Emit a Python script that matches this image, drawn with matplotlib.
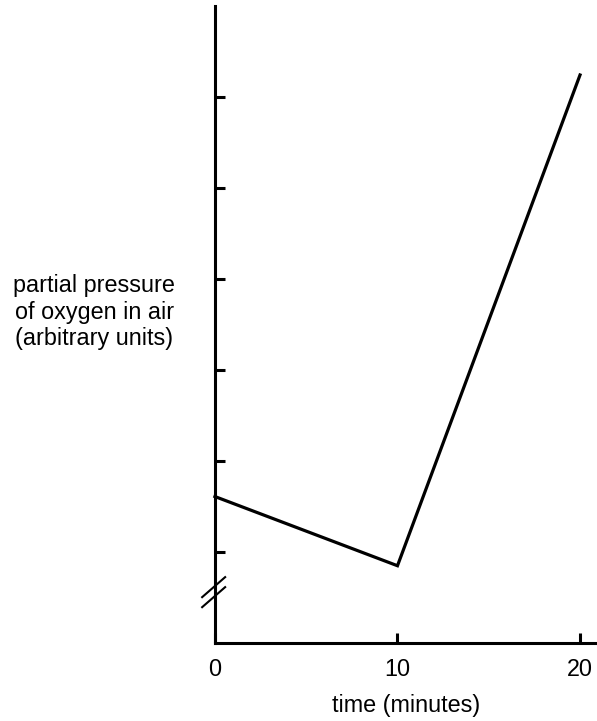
import matplotlib
matplotlib.use("Agg")
import matplotlib.pyplot as plt

time_min = [0, 10, 20]
pressure = [1.61, 0.85, 6.24]
x_ticks = [0, 10, 20]
y_ticks = [1, 2, 3, 4, 5, 6]

plt.rcParams['font.family'] = ['Liberation Sans', 'DejaVu Sans']

fig = plt.figure(figsize=(5.97, 7.21), dpi=100)
ax = fig.add_axes([0.360, 0.108, 0.64, 0.884])
ax.plot(time_min, pressure, color='black', lw=2.3, solid_joinstyle='miter', clip_on=False)
ax.set_xlim(0, 20.93)
ax.set_ylim(0, 7.0)
for s in ['top', 'right']:
    ax.spines[s].set_visible(False)
for s in ['left', 'bottom']:
    ax.spines[s].set_linewidth(2.2)
ax.set_xticks(x_ticks)
ax.set_xticklabels([str(v) for v in x_ticks], fontsize=16.8)
ax.set_yticks(y_ticks)
ax.set_yticklabels([])
ax.tick_params(axis='both', direction='in', length=7, width=2.2, pad=11)

# axis break marks
for dy in (-0.055, 0.055):
    ax.plot([-0.7, 0.56], [0.56 + dy - 0.11, 0.56 + dy + 0.11], color='black', lw=1.5, clip_on=False)

ax.set_xlabel('time (minutes)', fontsize=16.8, labelpad=9)
fig.text(0.158, 0.567, 'partial pressure\nof oxygen in air\n(arbitrary units)',
         ha='center', va='center', fontsize=16.8, linespacing=1.2)

fig.savefig('out.png', dpi=100)
